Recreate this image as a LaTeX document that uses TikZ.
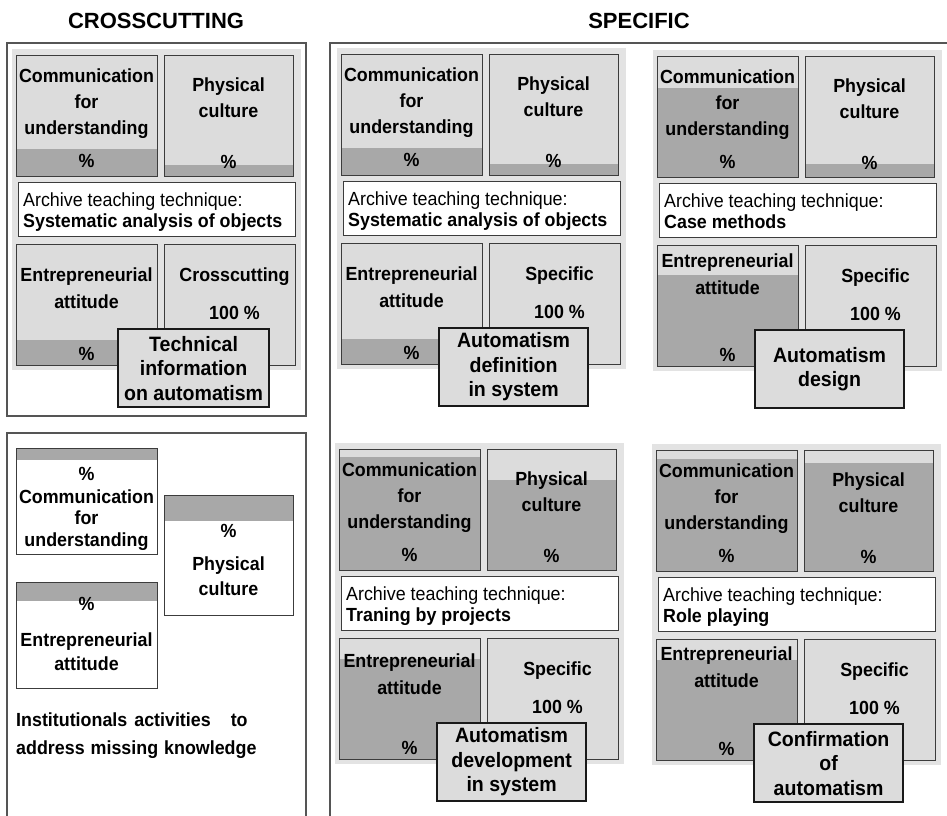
\documentclass[tikz,border=0pt]{standalone}
\usepackage{fontspec}
\setmainfont{Liberation Sans}
\newfontfamily\condfam[FakeStretch=0.94]{Liberation Sans}
\definecolor{pbg}{HTML}{E3E3E3}
\definecolor{cellfill}{HTML}{DCDCDC}
\definecolor{shadefill}{HTML}{A8A8A8}
\definecolor{linec}{HTML}{3C3C3C}
\definecolor{framec}{HTML}{555555}
\newcommand\cellfont{\condfam\fontsize{19}{22}\selectfont\bfseries}
\newcommand\techfont{\condfam\fontsize{19}{22}\selectfont}
\newcommand\labfont{\condfam\fontsize{20.8}{24.5}\selectfont\bfseries}
\tikzset{
  frameline/.style={draw=framec, line width=1.3pt},
  panelbox/.style={fill=pbg, draw=none, inner sep=0pt, anchor=north west},
  cellbox/.style={fill=cellfill, draw=linec, line width=0.9pt, inner sep=0pt, anchor=north west},
  whitebox/.style={fill=white, draw=linec, line width=0.9pt, inner sep=0pt, anchor=north west},
  shadetop/.style={path picture={\fill[shadefill] ([yshift=-#1 pt]path picture bounding box.north west) rectangle (path picture bounding box.south east);}},
  stripetop/.style={path picture={\fill[shadefill] (path picture bounding box.north west) rectangle ([yshift=-#1 pt]path picture bounding box.north east);}},
  labelbox/.style={fill=cellfill, draw=black!90, line width=2.2pt, inner sep=0pt, anchor=north west, align=center, font=\labfont},
  ctext/.style={anchor=base, inner sep=0pt, font=\cellfont},
  ltext/.style={anchor=base west, inner sep=0pt},
  titletext/.style={anchor=base, inner sep=0pt, font=\fontsize{22}{26}\selectfont\bfseries},
}
\def\entreoff{37}
\def\labx{101}
\def\labw{149}
% #1 prefix, #2 x, #3 y, #4 comm shade, #5 phys shade, #6 entre shade, #7 technique, #8 right title, #9 label
\newcommand\drawpanel[9]{%
\begin{scope}[shift={(#2,#3)}]
\node[panelbox, minimum width=289pt, minimum height=321pt] (#1-bg) at (0,0) {};
\node[cellbox, minimum width=141pt, minimum height=121pt, shadetop=#4] (#1-comm) at (4,6) {};
\node[ctext] (#1-comm-a) at (74.5,33) {Communication};
\node[ctext] (#1-comm-b) at (74.5,59) {for};
\node[ctext] (#1-comm-c) at (74.5,85) {understanding};
\node[ctext] (#1-comm-d) at (74.5,118) {\%};
\node[cellbox, minimum width=129pt, minimum height=121pt, shadetop=#5] (#1-phys) at (152,6) {};
\node[ctext] (#1-phys-a) at (216.5,42) {Physical};
\node[ctext] (#1-phys-b) at (216.5,68) {culture};
\node[ctext] (#1-phys-c) at (216.5,119) {\%};
\node[whitebox, minimum width=277pt, minimum height=54pt] (#1-tech) at (6,133) {};
\node[ltext, font=\techfont] (#1-tech-a) at (11,157) {Archive teaching technique:};
\node[ltext, font=\cellfont] (#1-tech-b) at (11,178) {#7};
\node[cellbox, minimum width=141pt, minimum height=121pt, shadetop=#6] (#1-entre) at (4,195) {};
\node[ctext] (#1-entre-a) at (74.5,195+\entreoff) {Entrepreneurial};
\node[ctext] (#1-entre-b) at (74.5,222+\entreoff) {attitude};
\node[ctext] (#1-entre-c) at (74.5,311) {\%};
\node[cellbox, minimum width=131pt, minimum height=121pt] (#1-spec) at (152,195) {};
\node[ctext] (#1-spec-a) at (222.5,232) {#8};
\node[ctext] (#1-spec-b) at (222.5,270) {100 \%};
\node[labelbox, minimum width=\labw pt, minimum height=78pt] (#1-label) at (\labx,279) {#9};
\end{scope}}
\begin{document}
\begin{tikzpicture}[x=1pt,y=-1pt]
\useasboundingbox (0,0) rectangle (947,815);
% titles
\node[titletext] (title-cross) at (156,28) {CROSSCUTTING};
\node[titletext] (title-spec) at (639,28) {SPECIFIC};
% frames
\draw[frameline] (7,43) rectangle (306,416);
\draw[frameline] (7,816) -- (7,433) -- (306,433) -- (306,816);
\draw[frameline] (330,816) -- (330,43) -- (948,43);
% panels
\def\entreoff{37}
\def\labx{105}\def\labw{151}
\drawpanel{p1}{12}{49}{94}{110}{96}{Systematic analysis of objects}{Crosscutting}{Technical\\information\\on automatism}
\def\labx{101}\def\labw{149}
\drawpanel{p2}{337}{48}{94}{110}{96}{Systematic analysis of objects}{Specific}{Automatism\\definition\\in system}
\def\entreoff{22}
\drawpanel{p3}{653}{50}{32}{108}{30}{Case methods}{Specific}{Automatism\\design}
\def\entreoff{29}
\drawpanel{p4}{335}{443}{8}{31}{21}{Traning by projects}{Specific}{Automatism\\development\\in system}
\def\entreoff{21}
\drawpanel{p5}{652}{444}{9}{13}{21}{Role playing}{Specific}{Confirmation\\of\\automatism}
% bottom-left panel
\node[whitebox, minimum width=141pt, minimum height=106pt, stripetop=12] (bl-comm) at (16,448) {};
\node[ctext] (bl-comm-a) at (86.5,480) {\%};
\node[ctext] (bl-comm-b) at (86.5,503) {Communication};
\node[ctext] (bl-comm-c) at (86.5,524) {for};
\node[ctext] (bl-comm-d) at (86.5,546) {understanding};
\node[whitebox, minimum width=129pt, minimum height=120pt, stripetop=26] (bl-phys) at (164,495) {};
\node[ctext] (bl-phys-a) at (228.5,537) {\%};
\node[ctext] (bl-phys-b) at (228.5,570) {Physical};
\node[ctext] (bl-phys-c) at (228.5,595) {culture};
\node[whitebox, minimum width=141pt, minimum height=106pt, stripetop=19] (bl-entre) at (16,582) {};
\node[ctext] (bl-entre-a) at (86.5,610) {\%};
\node[ctext] (bl-entre-b) at (86.5,646) {Entrepreneurial};
\node[ctext] (bl-entre-c) at (86.5,670) {attitude};
\node[ltext, font=\cellfont] (bl-inst-a) at (16,726) {Institutionals\hspace{7pt}activities\hspace{20pt}to};
\node[ltext, font=\cellfont] (bl-inst-b) at (16,754) {address\hspace{6pt}missing\hspace{6pt}knowledge};
\end{tikzpicture}
\end{document}
